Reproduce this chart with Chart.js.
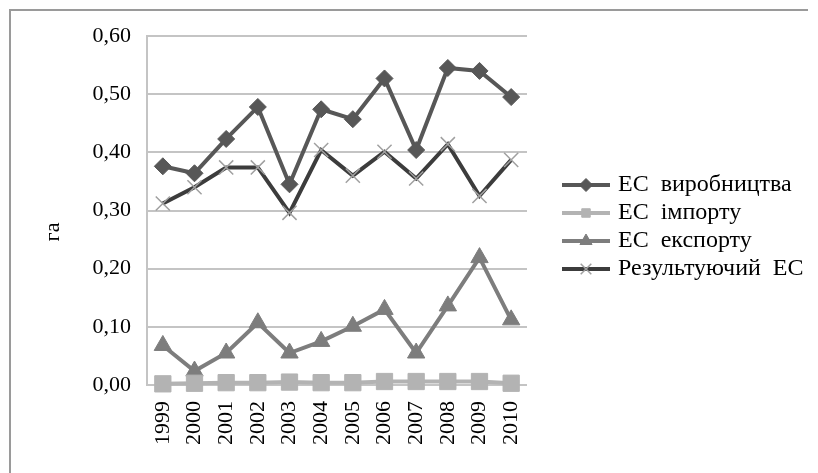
<!DOCTYPE html>
<html>
<head>
<meta charset="utf-8">
<script src="https://cdn.jsdelivr.net/npm/chart.js@4.4.1/dist/chart.umd.min.js"></script>
<style>
  html, body { margin: 0; padding: 0; background: #fff; }
  #wrap { width: 818px; height: 473px; }
</style>
</head>
<body>
<div id="wrap"><canvas id="chart" width="818" height="473"></canvas></div>
<script>
// data
const years = ['1999', '2000', '2001', '2002', '2003', '2004', '2005', '2006', '2007', '2008', '2009', '2010'];
const production = [0.376, 0.364, 0.423, 0.478, 0.345, 0.474, 0.457, 0.527, 0.404, 0.545, 0.540, 0.495];
const imports = [0.002, 0.003, 0.004, 0.004, 0.005, 0.004, 0.004, 0.006, 0.006, 0.006, 0.006, 0.003];
const exports = [0.068, 0.024, 0.055, 0.107, 0.055, 0.075, 0.101, 0.130, 0.055, 0.136, 0.219, 0.112];
const resulting = [0.312, 0.340, 0.374, 0.374, 0.296, 0.404, 0.360, 0.401, 0.355, 0.414, 0.325, 0.387];
const seriesNames = ['ЕС  виробництва', 'ЕС  імпорту', 'ЕС  експорту', 'Результуючий  ЕС'];
const yTitle = 'га';

const serif = "'Liberation Serif', 'DejaVu Serif', serif";

// frame, axis title and legend drawn by hand
const extras = {
  id: 'extras',
  afterDraw(chart) {
    const ctx = chart.ctx;
    ctx.save();
    ctx.strokeStyle = '#9a9a9a';
    ctx.lineWidth = 2;
    ctx.beginPath();
    ctx.moveTo(10, 473);
    ctx.lineTo(10, 10);
    ctx.lineTo(808, 10);
    ctx.stroke();

    ctx.fillStyle = '#000';
    ctx.font = '22px ' + serif;
    ctx.textAlign = 'center';
    ctx.textBaseline = 'middle';
    ctx.translate(53, 232);
    ctx.rotate(-Math.PI / 2);
    ctx.fillText(yTitle, 0, 0);
    ctx.restore();

    const rows = [185, 213, 241, 269];
    const legendRadius = [6.5, 6, 7, 7.5];
    chart.data.datasets.forEach((ds, i) => {
      const y = rows[i];
      ctx.save();
      ctx.strokeStyle = ds.borderColor;
      ctx.lineWidth = ds.borderWidth;
      ctx.beginPath();
      ctx.moveTo(562, y);
      ctx.lineTo(610, y);
      ctx.stroke();
      ctx.fillStyle = ds.pointBackgroundColor;
      ctx.strokeStyle = ds.pointBorderColor;
      ctx.lineWidth = ds.pointBorderWidth;
      Chart.helpers.drawPoint(ctx, {
        pointStyle: ds.pointStyle,
        radius: legendRadius[i],
        rotation: 0,
        borderWidth: ds.pointBorderWidth
      }, 586, y);
      ctx.fillStyle = '#000';
      ctx.font = '24px ' + serif;
      ctx.textAlign = 'left';
      ctx.textBaseline = 'middle';
      ctx.fillText(ds.label, 618, y);
      ctx.restore();
    });
  }
};

new Chart(document.getElementById('chart'), {
  type: 'line',
  data: {
    labels: years,
    datasets: [
      {
        label: seriesNames[0], data: production, clip: false,
        borderColor: '#575757', borderWidth: 4,
        pointStyle: 'rectRot', pointRadius: 8.5,
        pointBackgroundColor: '#575757', pointBorderColor: '#575757', pointBorderWidth: 1
      },
      {
        label: seriesNames[1], data: imports, clip: false,
        borderColor: '#b3b3b3', borderWidth: 4,
        pointStyle: 'rect', pointRadius: 11.5,
        pointBackgroundColor: '#b3b3b3', pointBorderColor: '#b3b3b3', pointBorderWidth: 1
      },
      {
        label: seriesNames[2], data: exports, clip: false,
        borderColor: '#7d7d7d', borderWidth: 4,
        pointStyle: 'triangle', pointRadius: 10,
        pointBackgroundColor: '#7d7d7d', pointBorderColor: '#7d7d7d', pointBorderWidth: 1
      },
      {
        label: seriesNames[3], data: resulting, clip: false,
        borderColor: '#3c3c3c', borderWidth: 4,
        pointStyle: 'crossRot', pointRadius: 10,
        pointBackgroundColor: '#a0a0a0', pointBorderColor: '#a0a0a0', pointBorderWidth: 1.5
      }
    ]
  },
  options: {
    responsive: false,
    animation: false,
    layout: { padding: { left: 40, right: 291, top: 36, bottom: 0 } },
    plugins: { legend: { display: false }, tooltip: { enabled: false } },
    scales: {
      x: {
        offset: true,
        grid: { display: false },
        border: { display: false },
        ticks: {
          color: '#000', font: { family: serif, size: 22 },
          minRotation: 90, maxRotation: 90, padding: 8
        },
        afterFit(scale) { scale.height = 88; }
      },
      y: {
        min: 0, max: 0.6,
        grid: { color: '#c4c4c4', lineWidth: 2, drawTicks: false },
        border: { display: true, color: '#c4c4c4', width: 2 },
        ticks: {
          stepSize: 0.1, color: '#000', padding: 16,
          font: { family: serif, size: 22 },
          callback: v => v.toFixed(2).replace('.', ',')
        },
        afterFit(scale) { scale.width = 107; }
      }
    }
  },
  plugins: [extras]
});
</script>
</body>
</html>
